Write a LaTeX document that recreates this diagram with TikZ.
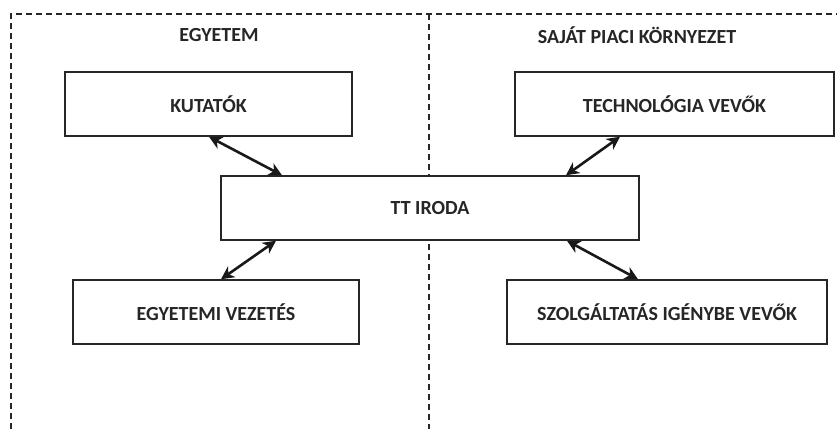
\documentclass[tikz,border=0pt]{standalone}
\usepackage{fontspec}
\setmainfont{Carlito}
\usetikzlibrary{arrows.meta}
\begin{document}
\begin{tikzpicture}[x=1pt,y=-1pt,
  box/.style={draw=black!85, line width=1.5pt, fill=white, font=\bfseries\fontsize{20}{23}\selectfont, text=black!85},
  title/.style={font=\bfseries\fontsize{20}{23}\selectfont, text=black!85},
  frame/.style={draw=black!85, line width=1.2pt, dash pattern=on 6pt off 4pt},
  link/.style={line width=2.6pt, black!90, {Stealth[length=13pt,width=13pt,inset=4pt]}-{Stealth[length=13pt,width=13pt,inset=4pt]}}]
\useasboundingbox (0,0) rectangle (837,429);
% frame
\coordinate (fl) at (11,429);
\coordinate (ftl) at (11,14);
\coordinate (ftr) at (837,14);
\coordinate (dt) at (429,14);
\coordinate (db) at (429,429);
\draw[frame] (fl) -- (ftl) -- (ftr);
\draw[frame] (dt) -- (db);
% titles
\node[title] (t1) at (219,35) {EGYETEM};
\node[title] (t2) at (637,35) {SAJÁT PIACI KÖRNYEZET};
% boxes
\node[box, minimum width=287pt, minimum height=64pt] (kut) at (208.5,104) {KUTATÓK};
\node[box, minimum width=319pt, minimum height=64pt] (tech) at (674.5,104) {TECHNOLÓGIA VEVŐK};
\node[box, minimum width=418pt, minimum height=64pt] (tt) at (430,208) {TT IRODA};
\node[box, minimum width=286pt, minimum height=64pt] (egy) at (216,312) {EGYETEMI VEZETÉS};
\node[box, minimum width=320pt, minimum height=64pt] (szo) at (667,312) {SZOLGÁLTATÁS IGÉNYBE VEVŐK};
% links
\draw[link] (kut.south west -| 209,0) -- (tt.north west -| 282,0);
\draw[link] (tech.south west -| 620,0) -- (tt.north west -| 566,0);
\draw[link] (tt.south west -| 276,0) -- (egy.north west -| 221,0);
\draw[link] (tt.south west -| 567,0) -- (szo.north west -| 638,0);
\end{tikzpicture}
\end{document}
